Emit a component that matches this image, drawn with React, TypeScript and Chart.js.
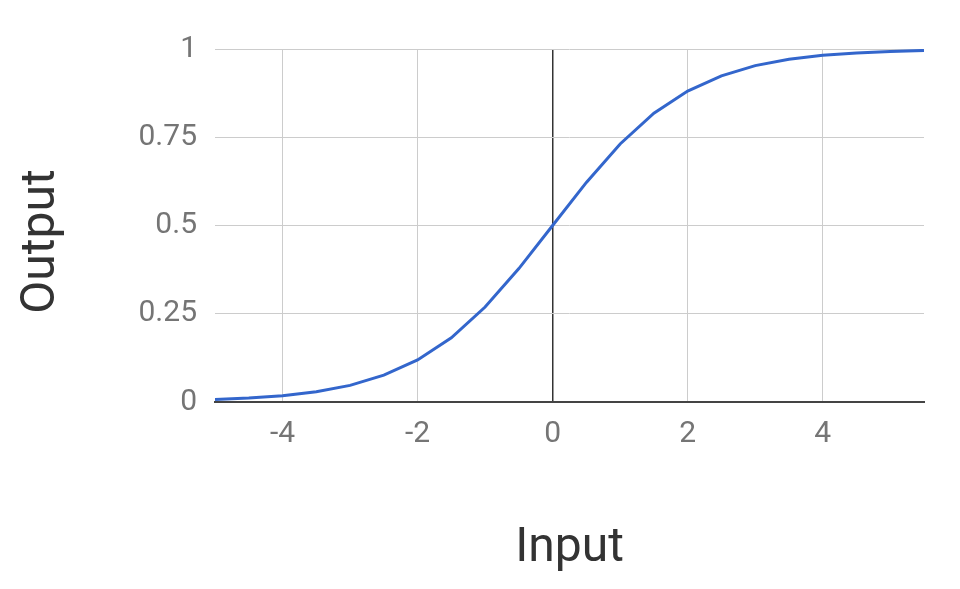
import React, { useEffect, useRef } from "react";
import { Chart, registerables } from "chart.js";

Chart.register(...registerables);

const inputs = [-5, -4.5, -4, -3.5, -3, -2.5, -2, -1.5, -1, -0.5, 0, 0.5, 1, 1.5, 2, 2.5, 3, 3.5, 4, 4.5, 5, 5.5];
const outputs = [0.007, 0.011, 0.018, 0.029, 0.047, 0.076, 0.119, 0.182, 0.269, 0.378, 0.5, 0.622, 0.731, 0.818, 0.881, 0.924, 0.953, 0.971, 0.982, 0.989, 0.993, 0.996];
const xTicks = [-4, -2, 0, 2, 4];
const yTicks = [0, 0.25, 0.5, 0.75, 1];
const xTitle = "Input";
const yTitle = "Output";

const yTitlePlugin = {
  id: "yTitlePlugin",
  afterDraw(chart: any) {
    const { ctx, chartArea } = chart;
    const cy = (chartArea.top + chartArea.bottom) / 2 + 16;
    ctx.save();
    ctx.translate(41.8, cy);
    ctx.rotate(-Math.PI / 2);
    ctx.font = "48px Roboto";
    ctx.fillStyle = "#333333";
    ctx.textAlign = "center";
    ctx.textBaseline = "middle";
    ctx.fillText(yTitle, 0, 0);
    ctx.restore();
  },
};

export default function App() {
  const ref = useRef<HTMLCanvasElement>(null);
  useEffect(() => {
    if (!ref.current) return;
    const chart = new Chart(ref.current, {
      type: "line",
      data: {
        datasets: [
          {
            data: inputs.map((x, i) => ({ x, y: outputs[i] })),
            borderColor: "#3366cc",
            borderWidth: 3,
            pointRadius: 0,
            tension: 0,
            fill: false,
          },
        ],
      },
      plugins: [yTitlePlugin],
      options: {
        animation: false,
        responsive: false,
        plugins: { legend: { display: false }, tooltip: { enabled: false } },
        layout: { padding: { top: 49, right: 36, left: 0, bottom: 0 } },
        scales: {
          x: {
            type: "linear",
            min: -5,
            max: 5.5,
            afterBuildTicks: (s: any) => {
              s.ticks = xTicks.map((v) => ({ value: v }));
            },
            afterFit: (s: any) => {
              s.height = 187;
            },
            grid: {
              drawTicks: false,
              color: (c: any) => (c.tick && c.tick.value === 0 ? "#333333" : "#cccccc"),
              lineWidth: (c: any) => (c.tick && c.tick.value === 0 ? 1.5 : 1),
            },
            border: { display: true, color: "#444444", width: 2 },
            ticks: {
              color: "#757575",
              font: { family: "Roboto", size: 30 },
              padding: 14,
              maxRotation: 0,
              callback: (v: any) => String(v),
            },
            title: {
              display: true,
              text: xTitle,
              color: "#333333",
              font: { family: "Roboto", size: 48 },
              padding: { top: 0, bottom: 11 },
            },
          },
          y: {
            type: "linear",
            min: 0,
            max: 1,
            afterBuildTicks: (s: any) => {
              s.ticks = yTicks.map((v) => ({ value: v }));
            },
            afterFit: (s: any) => {
              s.width = 215;
            },
            grid: {
              drawTicks: false,
              color: (c: any) => (c.tick && c.tick.value === 0 ? "rgba(0,0,0,0)" : "#cccccc"),
            },
            border: { display: false },
            ticks: {
              color: "#757575",
              font: { family: "Roboto", size: 30 },
              padding: 18,
              callback: (v: any) => String(v),
            },
          },
        },
      },
    });
    return () => chart.destroy();
  }, []);
  return (
    <div style={{ position: "fixed", left: 0, top: 0, width: 960, height: 589, background: "#fff" }}>
      <canvas ref={ref} width={960} height={589} style={{ width: 960, height: 589 }} />
    </div>
  );
}
